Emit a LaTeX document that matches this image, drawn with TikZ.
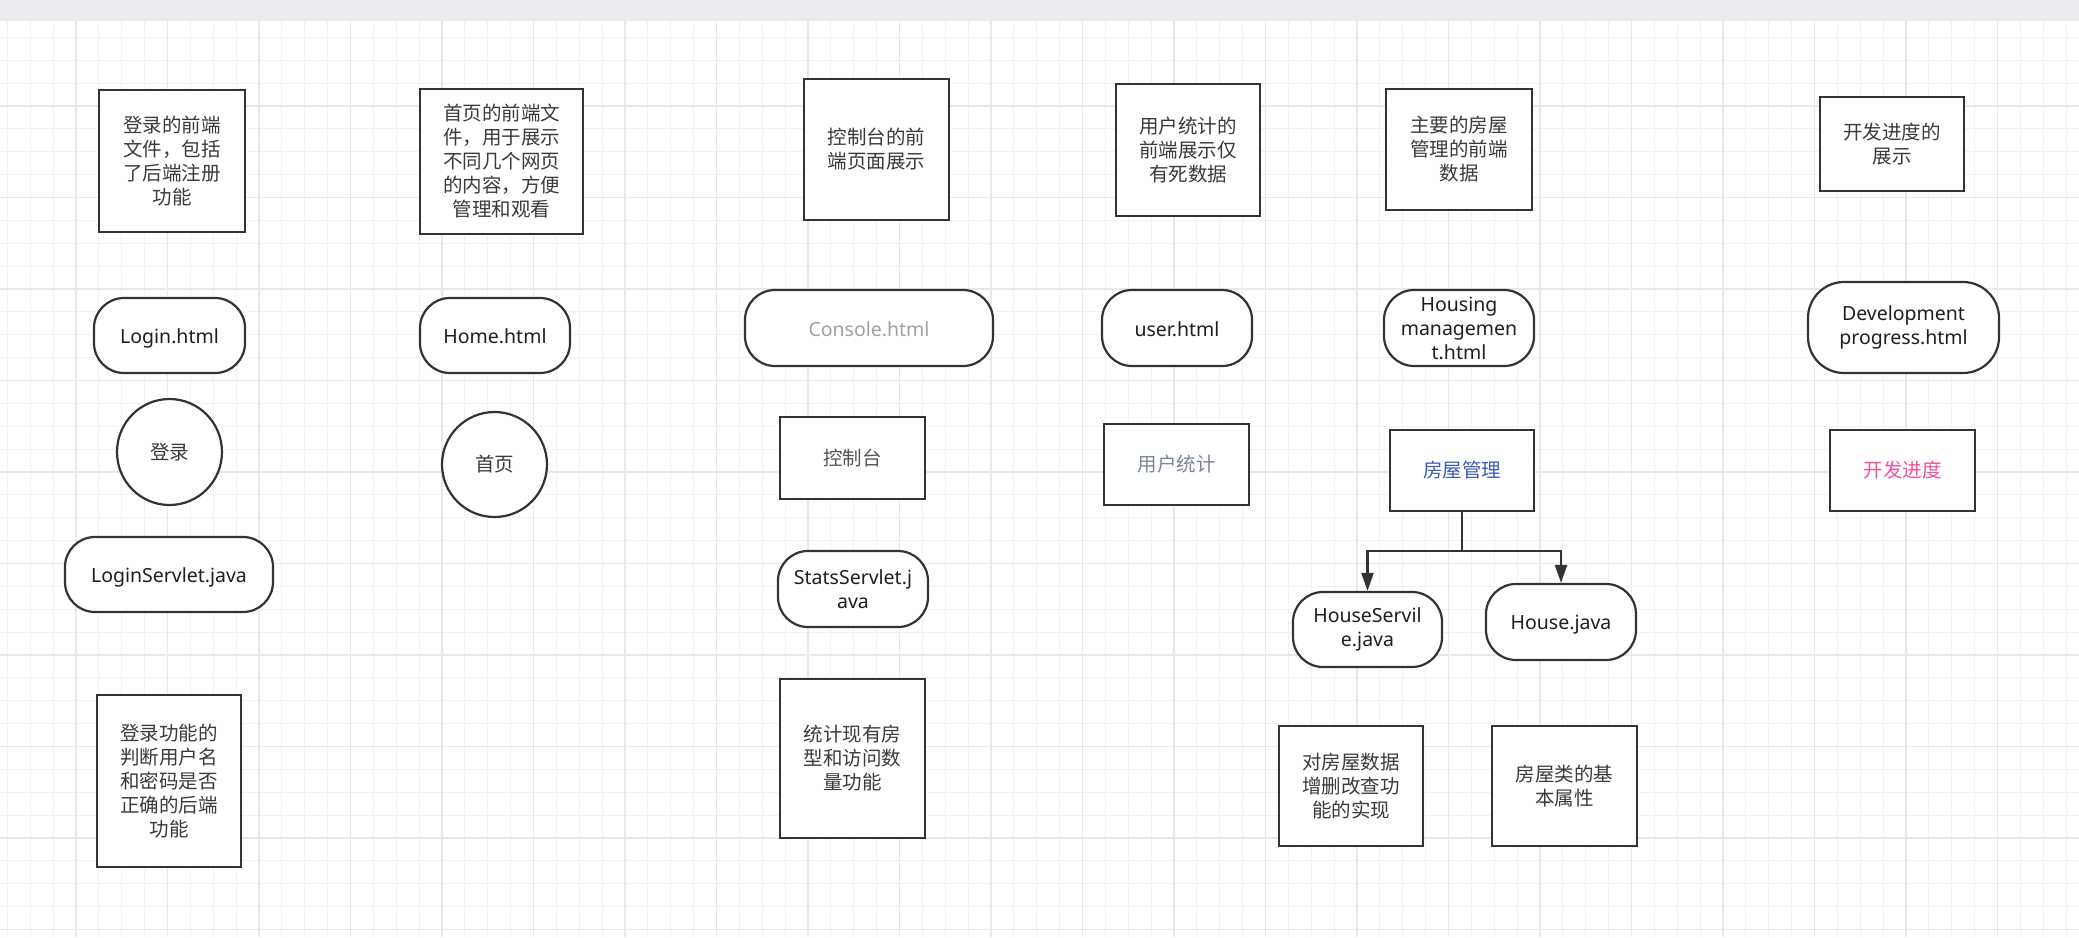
\documentclass[tikz,border=0pt]{standalone}
\usepackage{fontspec}
\setmainfont{Noto Sans}
\newfontfamily\cjk{Noto Sans CJK SC}
\usetikzlibrary{arrows.meta,shapes.geometric}
\definecolor{bordercol}{HTML}{333333}
\definecolor{txtcol}{HTML}{3A3A3A}
\definecolor{latincol}{HTML}{1E1E1E}
\definecolor{minorcol}{HTML}{F2F2F2}
\definecolor{majorcol}{HTML}{E8E8E8}
\definecolor{barcol}{HTML}{E9EBEE}
\definecolor{consolecol}{HTML}{A0A0A0}
\definecolor{ctrlcol}{HTML}{555555}
\definecolor{usercol}{HTML}{7A8599}
\definecolor{housecol}{HTML}{3B5BB5}
\definecolor{devcol}{HTML}{F050A0}
\tikzset{
  minorline/.style={draw=minorcol, line width=1pt},
  majorline/.style={draw=majorcol, line width=1.3pt},
  desc/.style={draw=bordercol, line width=2.2pt, fill=white, rectangle, align=center,
    inner sep=2pt, text=txtcol, font=\cjk\fontsize{19.5}{24}\selectfont},
  term/.style={draw=bordercol, line width=2.2pt, fill=white, rectangle, rounded corners=30pt,
    align=center, inner sep=2pt, text=latincol, font=\fontsize{19.5}{24}\selectfont},
  oneline/.style={execute at begin node={\rule[-4pt]{0pt}{24pt}}},
  oval/.style={draw=bordercol, line width=2.2pt, fill=white, ellipse, align=center,
    inner sep=0pt, text=txtcol, font=\cjk\fontsize{19.5}{24}\selectfont},
  conn/.style={draw=bordercol, line width=2.2pt},
  arr/.style={draw=bordercol, line width=2.2pt, -{Triangle[length=18pt,width=12pt]}},
}
\begin{document}
\begin{tikzpicture}[x=1pt,y=-1pt]
\useasboundingbox (0,0) rectangle (2079,937);
\fill[white] (0,0) rectangle (2079,937);
% grid
\foreach \i in {0,...,90} {\draw[minorline] ({7.375+22.875*\i},21) -- ({7.375+22.875*\i},937);}
\foreach \i in {1,...,40} {\draw[minorline] (0,{14.5+22.875*\i}) -- (2079,{14.5+22.875*\i});}
\foreach \i in {0,...,21} {\draw[majorline] ({76+91.5*\i},21) -- ({76+91.5*\i},937);}
\foreach \i in {0,...,9} {\draw[majorline] (0,{106+91.5*\i}) -- (2079,{106+91.5*\i});}
\fill[barcol] (0,0) rectangle (2079,21);

% column 1
\node[desc, minimum width=146pt, minimum height=142pt] (logindesc) at (172,161) {登录的前端\\文件，包括\\了后端注册\\功能};
\node[term, oneline, minimum width=151pt, minimum height=75pt] (loginhtml) at (169.5,335.5) {Login.html};
\node[oval, minimum width=105pt, minimum height=106pt] (login) at (169.5,452) {登录};
\node[term, oneline, minimum width=208pt, minimum height=75pt] (loginservlet) at (169,574.5) {LoginServlet.java};
\node[desc, minimum width=144pt, minimum height=172pt] (loginback) at (169,781) {登录功能的\\判断用户名\\和密码是否\\正确的后端\\功能};

% column 2
\node[desc, minimum width=163pt, minimum height=145pt] (homedesc) at (501.5,161.5) {首页的前端文\\件，用于展示\\不同几个网页\\的内容，方便\\管理和观看};
\node[term, oneline, minimum width=150pt, minimum height=75pt] (homehtml) at (495,335.5) {Home.html};
\node[oval, minimum width=105pt, minimum height=105pt] (home) at (494.5,464.5) {首页};

% column 3
\node[desc, minimum width=145pt, minimum height=141pt] (consoledesc) at (876.5,149.5) {控制台的前\\端页面展示};
\node[term, oneline, minimum width=248pt, minimum height=76pt, text=consolecol] (consolehtml) at (869,328) {Console.html};
\node[desc, minimum width=145pt, minimum height=82pt, text=ctrlcol] (console) at (852.5,458) {控制台};
\node[term, minimum width=150pt, minimum height=76pt] (statsservlet) at (853,589) {StatsServlet.j\\ava};
\node[desc, minimum width=145pt, minimum height=159pt] (statsdesc) at (852.5,758.5) {统计现有房\\型和访问数\\量功能};

% column 4
\node[desc, minimum width=144pt, minimum height=132pt] (userdesc) at (1188,150) {用户统计的\\前端展示仅\\有死数据};
\node[term, oneline, minimum width=150pt, minimum height=76pt] (userhtml) at (1177,328) {user.html};
\node[desc, minimum width=145pt, minimum height=81pt, text=usercol] (user) at (1176.5,464.5) {用户统计};

% column 5
\node[desc, minimum width=146pt, minimum height=121pt] (housedesc) at (1459,149.5) {主要的房屋\\管理的前端\\数据};
\node[term, minimum width=150pt, minimum height=76pt] (househtml) at (1459,328) {Housing\\managemen\\t.html};
\node[desc, minimum width=144pt, minimum height=81pt, text=housecol] (housemgmt) at (1462,470.5) {房屋管理};
\node[term, minimum width=149pt, minimum height=75pt] (houseservile) at (1367.5,629.5) {HouseServil\\e.java};
\node[term, oneline, minimum width=150pt, minimum height=76pt] (housejava) at (1561,622) {House.java};
\node[desc, minimum width=144pt, minimum height=120pt] (crud) at (1351,786) {对房屋数据\\增删改查功\\能的实现};
\node[desc, minimum width=145pt, minimum height=120pt] (attrs) at (1564.5,786) {房屋类的基\\本属性};

% column 6
\node[desc, minimum width=144pt, minimum height=94pt] (devdesc) at (1892,144) {开发进度的\\展示};
\node[term, minimum width=191pt, minimum height=91pt, rounded corners=36pt] (devhtml) at (1903.5,327.5) {Development\\progress.html};
\node[desc, minimum width=145pt, minimum height=81pt, text=devcol] (dev) at (1902.5,470.5) {开发进度};

% connectors
\coordinate (junc) at (1462,551);
\draw[conn] (housemgmt.south) -- (junc);
\draw[arr] (junc) -| (houseservile.north);
\draw[arr] (junc) -| (housejava.north);
\end{tikzpicture}
\end{document}
